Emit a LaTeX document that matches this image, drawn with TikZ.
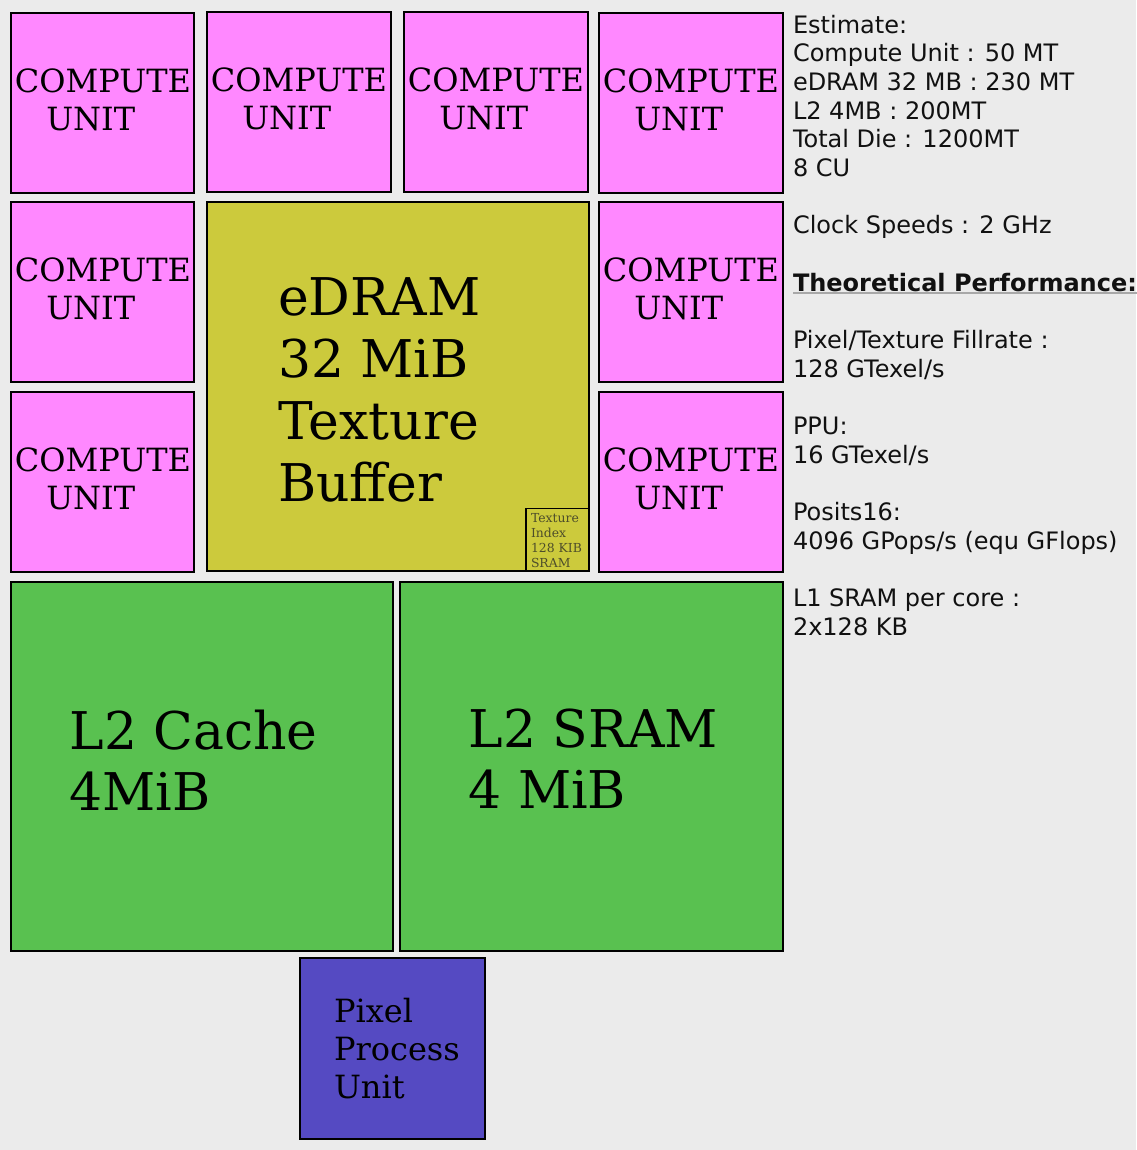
\documentclass[tikz,border=0pt]{standalone}
\usepackage{fontspec}
\setmainfont{DejaVu Serif}
\newfontfamily\sansfont{DejaVu Sans}
\usetikzlibrary{fit}
\definecolor{bgcol}{HTML}{EBEBEB}
\definecolor{cupink}{HTML}{FF88FF}
\definecolor{olive}{HTML}{CCCA3C}
\definecolor{l2green}{HTML}{59C150}
\definecolor{ppupurple}{HTML}{554AC2}
\definecolor{ulcol}{HTML}{A8A8A8}
\definecolor{smalltext}{HTML}{4D4D2A}
\definecolor{sidetext}{HTML}{111111}
\newcommand\mystack[2]{\vtop{\baselineskip=#1\lineskiplimit=-\maxdimen\lineskip=0pt #2}}
\newcommand\ulgray[1]{\setbox0=\hbox{#1}\rlap{\textcolor{ulcol}{\rule[-1.9pt]{\wd0}{1.1pt}}}\box0}
\newcommand\cutxt{\mystack{28.5pt}{\hbox{COMPUTE}\hbox{\hspace*{23.6pt}UNIT}}}
\begin{document}
\begin{tikzpicture}[x=0.75pt,y=-0.75pt,
  box/.style={draw=black, line width=1.5pt, inner sep=0pt, outer sep=0pt},
  cubox/.style={box, fill=cupink},
  edbox/.style={box, fill=olive},
  l2box/.style={box, fill=l2green},
  ppubox/.style={box, fill=ppupurple},
  tibox/.style={draw=black, line width=0.8pt, inner sep=0pt, outer sep=0pt},
  lbl/.style={anchor=base west, inner sep=0pt, outer sep=0pt, text=black},
  cutext/.style={lbl, font=\fontsize{24pt}{28.5pt}\selectfont},
  bigtext/.style={lbl, font=\fontsize{39pt}{46.5pt}\selectfont},
  tinytext/.style={lbl, text=smalltext, font=\fontsize{9.3pt}{11.25pt}\selectfont},
  sidetxt/.style={lbl, text=sidetext, font=\sansfont\fontsize{18pt}{21.5pt}\selectfont}]
\fill[bgcol] (0,0) rectangle (1136,1150);
\useasboundingbox (0,0) rectangle (1136,1150);
% compute units
\node[cubox, fit={(10.5,12.5) (194,192.5)}] (cu1) {};
\node[cubox, fit={(207,11.5) (390.5,192)}] (cu2) {};
\node[cubox, fit={(404,11.5) (587.5,192)}] (cu3) {};
\node[cubox, fit={(599,12.5) (782.5,192.5)}] (cu4) {};
\node[cubox, fit={(10.5,202) (194,381.5)}] (cu5) {};
\node[cubox, fit={(599,202) (782.5,381.5)}] (cu6) {};
\node[cubox, fit={(10.5,392) (194,571.5)}] (cu7) {};
\node[cubox, fit={(599,392) (782.5,571.5)}] (cu8) {};
\node[cutext] (cu1t) at (14.8,92) {\cutxt};
\node[cutext] (cu2t) at (210.8,91) {\cutxt};
\node[cutext] (cu3t) at (407.8,91) {\cutxt};
\node[cutext] (cu4t) at (602.8,92) {\cutxt};
\node[cutext] (cu5t) at (14.8,281.5) {\cutxt};
\node[cutext] (cu6t) at (602.8,281.5) {\cutxt};
\node[cutext] (cu7t) at (14.8,471.5) {\cutxt};
\node[cutext] (cu8t) at (602.8,471.5) {\cutxt};
% eDRAM
\node[edbox, fit={(207,202) (588.5,571)}] (edram) {};
\node[bigtext] (edramt) at (278,315) {\mystack{46.5pt}{\hbox{eDRAM}\hbox{32 MiB}\hbox{Texture}\hbox{Buffer}}};
\node[tibox, fit={(526,508.5) (588.5,571)}] (tidx) {};
\node[tinytext] (tidxt) at (531,522) {\mystack{11.25pt}{\hbox{Texture}\hbox{Index}\hbox{128 KIB}\hbox{SRAM}}};
% L2
\node[l2box, fit={(10.5,582) (393,951)}] (l2c) {};
\node[l2box, fit={(400,582) (782.5,951)}] (l2s) {};
\node[bigtext] (l2ct) at (69.5,749) {\mystack{46pt}{\hbox{L2 Cache}\hbox{4MiB}}};
\node[bigtext] (l2st) at (468.5,747) {\mystack{46pt}{\hbox{L2 SRAM}\hbox{4 MiB}}};
% PPU
\node[ppubox, fit={(300,958) (485,1138.5)}] (ppu) {};
\node[cutext] (pput) at (334,1022.5) {\mystack{28.5pt}{\hbox{Pixel}\hbox{Process}\hbox{Unit}}};
% side text
\node[sidetxt] (side) at (793,33.3) {\mystack{21.49pt}{%
\hbox{Estimate:}
\hbox{Compute Unit : 50 MT}
\hbox{eDRAM 32 MB : 230 MT}
\hbox{L2 4MB : 200MT}
\hbox{Total Die : 1200MT}
\hbox{8 CU}
\hbox{}
\hbox{Clock Speeds : 2 GHz}
\hbox{}
\hbox{\ulgray{\bfseries Theoretical Performance:}}
\hbox{}
\hbox{Pixel/Texture Fillrate :}
\hbox{128 GTexel/s}
\hbox{}
\hbox{PPU:}
\hbox{16 GTexel/s}
\hbox{}
\hbox{Posits16:}
\hbox{4096 GPops/s (equ GFlops)}
\hbox{}
\hbox{L1 SRAM per core :}
\hbox{2x128 KB}}};
\end{tikzpicture}
\end{document}
